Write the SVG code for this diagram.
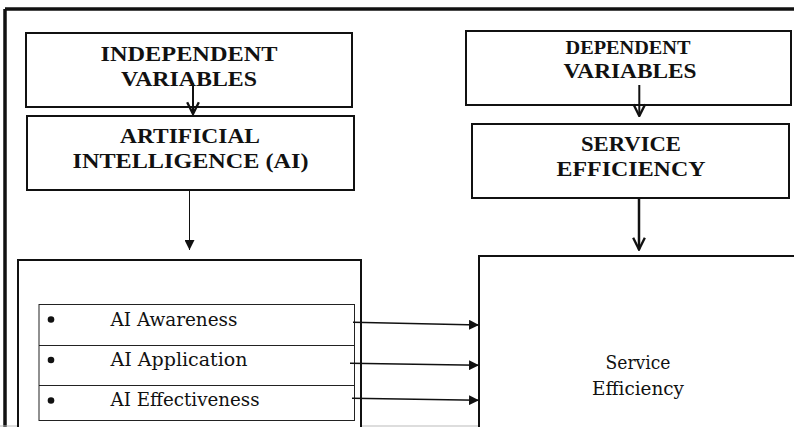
<svg xmlns="http://www.w3.org/2000/svg" width="794" height="427" viewBox="0 0 794 427">
<defs>
<style>
.box{fill:#fff;stroke:#111;stroke-width:2}
.thin{fill:none;stroke:#222;stroke-width:1}
.hd{font-family:"Liberation Serif","Times New Roman",serif;font-weight:bold;fill:#111;text-anchor:middle}
.lbl{font-family:"DejaVu Serif","Liberation Serif",serif;font-weight:normal;fill:#111;font-size:18px}
.ln{fill:none;stroke:#111}
</style>
<marker id="tri" viewBox="0 0 10 10" refX="10" refY="5" markerWidth="10" markerHeight="10" markerUnits="userSpaceOnUse" orient="auto">
<path d="M0,0 L10,5 L0,10 Z" fill="#111"/>
</marker>
<marker id="vee" viewBox="0 0 12 12" refX="11" refY="6" markerWidth="14" markerHeight="14" markerUnits="userSpaceOnUse" orient="auto">
<path d="M1,1 L11,6 L1,11" fill="none" stroke="#111" stroke-width="2"/>
</marker>
</defs>
<rect width="794" height="427" fill="#fff"/>
<g id="frame">
<line x1="5" y1="9" x2="794" y2="9" stroke="#111" stroke-width="3.5"/>
<line x1="5" y1="9" x2="5" y2="427" stroke="#111" stroke-width="3.5"/>
<line x1="0" y1="426" x2="794" y2="426" stroke="#bbb" stroke-width="1"/>
</g>
<g id="independent">
<rect class="box" x="26" y="33" width="326" height="74"/>
<text class="hd" font-size="22" x="189" y="61" textLength="177" lengthAdjust="spacingAndGlyphs">INDEPENDENT</text>
<text class="hd" font-size="22" x="189" y="86" textLength="136" lengthAdjust="spacingAndGlyphs">VARIABLES</text>
</g>
<g id="ai">
<rect class="box" x="27" y="116" width="327" height="74"/>
<text class="hd" font-size="22" x="190" y="143" textLength="140" lengthAdjust="spacingAndGlyphs">ARTIFICIAL</text>
<text class="hd" font-size="22" x="190.5" y="168" textLength="236" lengthAdjust="spacingAndGlyphs">INTELLIGENCE (AI)</text>
</g>
<g id="dependent">
<rect class="box" x="466" y="31" width="325" height="74"/>
<text class="hd" font-size="19" x="628" y="54" textLength="125" lengthAdjust="spacingAndGlyphs">DEPENDENT</text>
<text class="hd" font-size="22" x="630" y="78" textLength="133" lengthAdjust="spacingAndGlyphs">VARIABLES</text>
</g>
<g id="service-efficiency-head">
<rect class="box" x="472" y="124" width="317" height="74"/>
<text class="hd" font-size="22" x="631" y="151" textLength="100" lengthAdjust="spacingAndGlyphs">SERVICE</text>
<text class="hd" font-size="22" x="631" y="176" textLength="149" lengthAdjust="spacingAndGlyphs">EFFICIENCY</text>
</g>
<g id="ai-dimensions">
<rect class="box" x="18" y="260" width="343" height="175"/>
<rect class="thin" x="39" y="304.5" width="315.5" height="116"/>
<line class="thin" x1="39" y1="345.5" x2="354.5" y2="345.5"/>
<line class="thin" x1="39" y1="385.5" x2="354.5" y2="385.5"/>
<circle cx="51" cy="319.5" r="3.3" fill="#111"/>
<circle cx="51" cy="360" r="3.3" fill="#111"/>
<circle cx="51" cy="400.5" r="3.3" fill="#111"/>
<text class="lbl" x="110.5" y="325.5" textLength="127" lengthAdjust="spacingAndGlyphs">AI Awareness</text>
<text class="lbl" x="110.5" y="366" textLength="137" lengthAdjust="spacingAndGlyphs">AI Application</text>
<text class="lbl" x="110.5" y="406" textLength="149" lengthAdjust="spacingAndGlyphs">AI Effectiveness</text>
</g>
<g id="service-efficiency">
<rect class="box" x="479" y="256" width="330" height="180"/>
<text class="lbl" x="638" y="368.5" text-anchor="middle" textLength="65" lengthAdjust="spacingAndGlyphs">Service</text>
<text class="lbl" x="638" y="394.5" text-anchor="middle" textLength="92" lengthAdjust="spacingAndGlyphs">Efficiency</text>
</g>
<g id="connectors">
<line class="ln" stroke-width="2" x1="193" y1="83" x2="193" y2="114" marker-end="url(#vee)"/>
<line class="ln" stroke-width="2" x1="639.3" y1="85" x2="639.3" y2="116" marker-end="url(#vee)"/>
<line class="ln" stroke-width="1" x1="189.5" y1="190" x2="189.5" y2="250" marker-end="url(#tri)"/>
<line class="ln" stroke-width="2.5" x1="639" y1="198" x2="639" y2="249.5" marker-end="url(#vee)"/>
<line class="ln" stroke-width="1.5" x1="353" y1="322.3" x2="479" y2="325" marker-end="url(#tri)"/>
<line class="ln" stroke-width="1.5" x1="350" y1="363.3" x2="479" y2="365.3" marker-end="url(#tri)"/>
<line class="ln" stroke-width="1.5" x1="352" y1="398.3" x2="479" y2="400.3" marker-end="url(#tri)"/>
</g>
</svg>
